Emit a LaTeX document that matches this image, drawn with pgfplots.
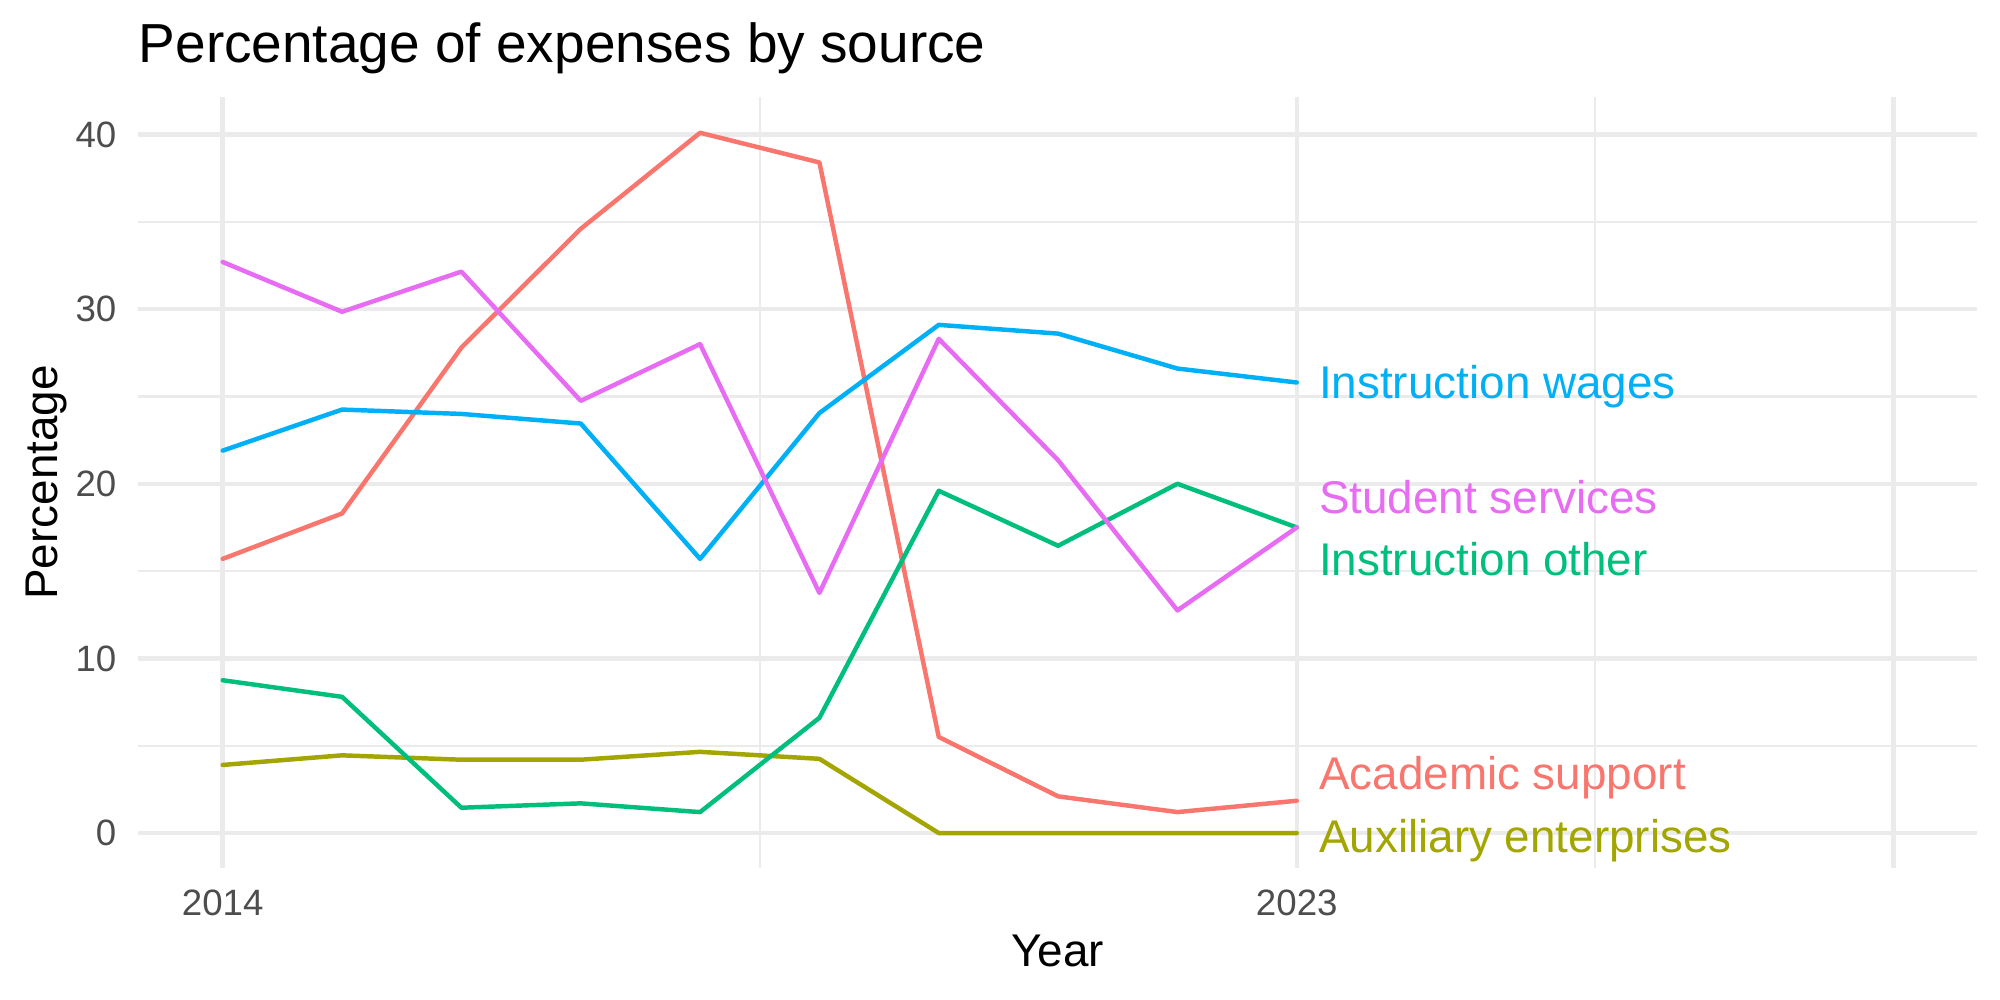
\documentclass[border=0pt]{standalone}
\usepackage{fontspec}
\setmainfont{Liberation Sans}
\usepackage{pgfplots}
\pgfplotsset{compat=1.18}

\definecolor{acad}{HTML}{F8766D}
\definecolor{auxi}{HTML}{A3A500}
\definecolor{iother}{HTML}{00BF7D}
\definecolor{iwage}{HTML}{00B0F6}
\definecolor{stud}{HTML}{E76BF3}
\definecolor{gridmaj}{HTML}{EBEBEB}
\definecolor{ticktext}{HTML}{4D4D4D}

\begin{document}
\begin{tikzpicture}
\fill[white] (0,0) rectangle (480pt,240pt);
\useasboundingbox (0,0) rectangle (480pt,240pt);

% title and axis titles
\node[anchor=base west, inner sep=0pt, font=\fontsize{13.2}{15}\selectfont] at (33.1pt,224.9pt) {Percentage of expenses by source};
\node[anchor=base, inner sep=0pt, font=\fontsize{11}{13}\selectfont] at (253.8pt,8.0pt) {Year};
\node[anchor=base, rotate=90, inner sep=0pt, font=\fontsize{11}{13}\selectfont] at (13.7pt,124.2pt) {Percentage};

\begin{axis}[
  at={(33.12pt,31.68pt)}, anchor=south west,
  scale only axis, width=441.36pt, height=185.04pt,
  xmin=2013.29, xmax=2028.70,
  ymin=-2.0, ymax=42.15,
  axis line style={draw=none},
  tick style={draw=none},
  major tick length=0pt, minor tick length=0pt,
  xtick={2014,2023,2028}, xticklabels={2014,2023,{}},
  minor xtick={2018.5,2025.5},
  ytick={0,10,20,30,40}, yticklabels={0,10,20,30,40},
  minor ytick={5,15,25,35},
  grid=both,
  major grid style={draw=gridmaj, line width=1.07pt},
  minor grid style={draw=gridmaj, line width=0.53pt},
  xticklabel style={anchor=base, inner sep=0pt, yshift=-11.3pt, text=ticktext, font=\fontsize{8.8}{10}\selectfont},
  yticklabel style={anchor=east, inner sep=0pt, xshift=-5pt, text=ticktext, font=\fontsize{8.8}{10}\selectfont},
  /pgf/number format/assume math mode=true,
  clip=false,
  every axis plot/.append style={line width=1.07pt, line join=round, line cap=round, mark=none},
]
% Academic support
\addplot[acad] coordinates {
  (2014,15.7) (2015,18.3) (2016,27.8) (2017,34.6) (2018,40.1)
  (2019,38.4) (2020,5.5) (2021,2.1) (2022,1.2) (2023,1.85)};
% Auxiliary enterprises
\addplot[auxi] coordinates {
  (2014,3.9) (2015,4.45) (2016,4.2) (2017,4.2) (2018,4.65)
  (2019,4.25) (2020,0) (2021,0) (2022,0) (2023,0)};
% Instruction other
\addplot[iother] coordinates {
  (2014,8.75) (2015,7.8) (2016,1.45) (2017,1.7) (2018,1.2)
  (2019,6.6) (2020,19.6) (2021,16.45) (2022,20.0) (2023,17.5)};
% Instruction wages
\addplot[iwage] coordinates {
  (2014,21.9) (2015,24.25) (2016,24.0) (2017,23.45) (2018,15.7)
  (2019,24.05) (2020,29.1) (2021,28.6) (2022,26.6) (2023,25.8)};
% Student services
\addplot[stud] coordinates {
  (2014,32.7) (2015,29.85) (2016,32.15) (2017,24.75) (2018,28.0)
  (2019,13.75) (2020,28.3) (2021,21.35) (2022,12.75) (2023,17.5)};

% series names at the right-hand end of each line
\begin{scope}[every node/.style={anchor=base west, inner sep=0pt, font=\fontsize{11}{13}\selectfont}]
\node[text=iwage]  at (axis cs:2023.18,24.86) {Instruction wages};
\node[text=stud]   at (axis cs:2023.18,18.28) {Student services};
\node[text=iother] at (axis cs:2023.18,14.72) {Instruction other};
\node[text=acad]   at (axis cs:2023.18,2.47)  {Academic support};
\node[text=auxi]   at (axis cs:2023.18,-1.09) {Auxiliary enterprises};
\end{scope}
\end{axis}
\end{tikzpicture}
\end{document}
